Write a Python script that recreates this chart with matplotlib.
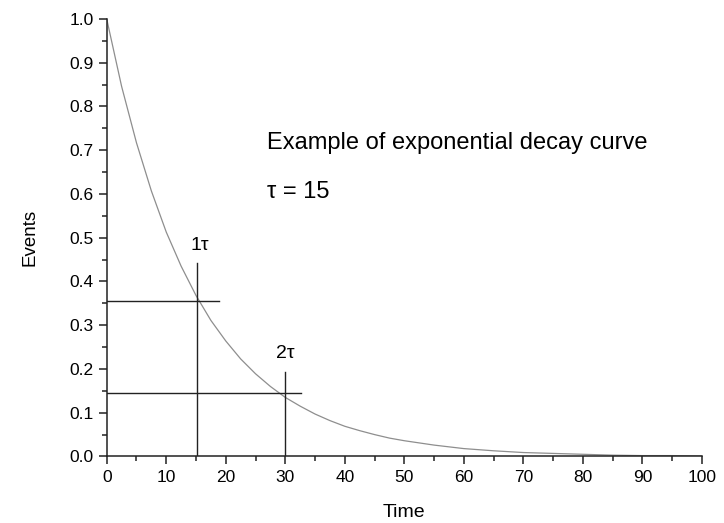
import matplotlib
matplotlib.use("Agg")
import matplotlib.pyplot as plt
from matplotlib.ticker import MultipleLocator, FormatStrFormatter

plt.rcParams['font.family'] = ['Liberation Sans', 'DejaVu Sans']

# Curve values
time = [0, 2.5, 5, 7.5, 10, 12.5, 15, 17.5, 20, 22.5, 25, 27.5, 30, 32.5, 35, 37.5,
        40, 42.5, 45, 47.5, 50, 55, 60, 65, 70, 75, 80, 85, 90, 95, 100]
events = [1.0, 0.846, 0.717, 0.607, 0.513, 0.435, 0.368, 0.311, 0.264, 0.223, 0.189,
          0.160, 0.135, 0.115, 0.097, 0.082, 0.069, 0.059, 0.050, 0.042, 0.036, 0.026,
          0.018, 0.013, 0.009, 0.007, 0.005, 0.003, 0.002, 0.002, 0.001]

# Marker lines
tau_x = [15.1, 30.0]
tau_vtop = [0.442, 0.192]
tau_h = [0.355, 0.144]
tau_hend = [18.9, 32.6]
tau_labels = ["1τ", "2τ"]
tau_label_x = [15.6, 30.0]
tau_label_y = [0.472, 0.225]

fig = plt.figure(figsize=(7.24, 5.23), dpi=100)
ax = fig.add_axes([0.1474, 0.1272, 0.8222, 0.8365])

ax.plot(time, events, color="#8e8e8e", lw=0.9)

for x, vt, hy, he in zip(tau_x, tau_vtop, tau_h, tau_hend):
    ax.plot([x, x], [0, vt], color="#222222", lw=1.0)
    ax.plot([0, he], [hy, hy], color="#222222", lw=1.0)
for lx, ly, lab in zip(tau_label_x, tau_label_y, tau_labels):
    ax.text(lx, ly, lab, fontsize=14, ha="center", va="baseline")

ax.text(26.9, 0.703, "Example of exponential decay curve", fontsize=17, va="baseline")
ax.text(26.9, 0.590, "τ = 15", fontsize=17, va="baseline")

ax.set_xlim(0, 100)
ax.set_ylim(0, 1.0)
ax.xaxis.set_major_locator(MultipleLocator(10))
ax.xaxis.set_minor_locator(MultipleLocator(5))
ax.yaxis.set_major_locator(MultipleLocator(0.1))
ax.yaxis.set_minor_locator(MultipleLocator(0.05))
ax.yaxis.set_major_formatter(FormatStrFormatter('%.1f'))

for s in ["top", "right"]:
    ax.spines[s].set_visible(False)
for s in ["left", "bottom"]:
    ax.spines[s].set_linewidth(1.1)
    ax.spines[s].set_color("#222222")

ax.tick_params(which="major", direction="out", length=6, width=1.1, labelsize=12.5,
               color="#222222", pad=3.5)
ax.tick_params(which="minor", direction="out", length=3.5, width=1.1, color="#222222")

ax.set_xlabel("Time", fontsize=14, labelpad=14)
ax.set_ylabel("Events", fontsize=13.5, labelpad=22)

fig.savefig("out.png", dpi=100)
